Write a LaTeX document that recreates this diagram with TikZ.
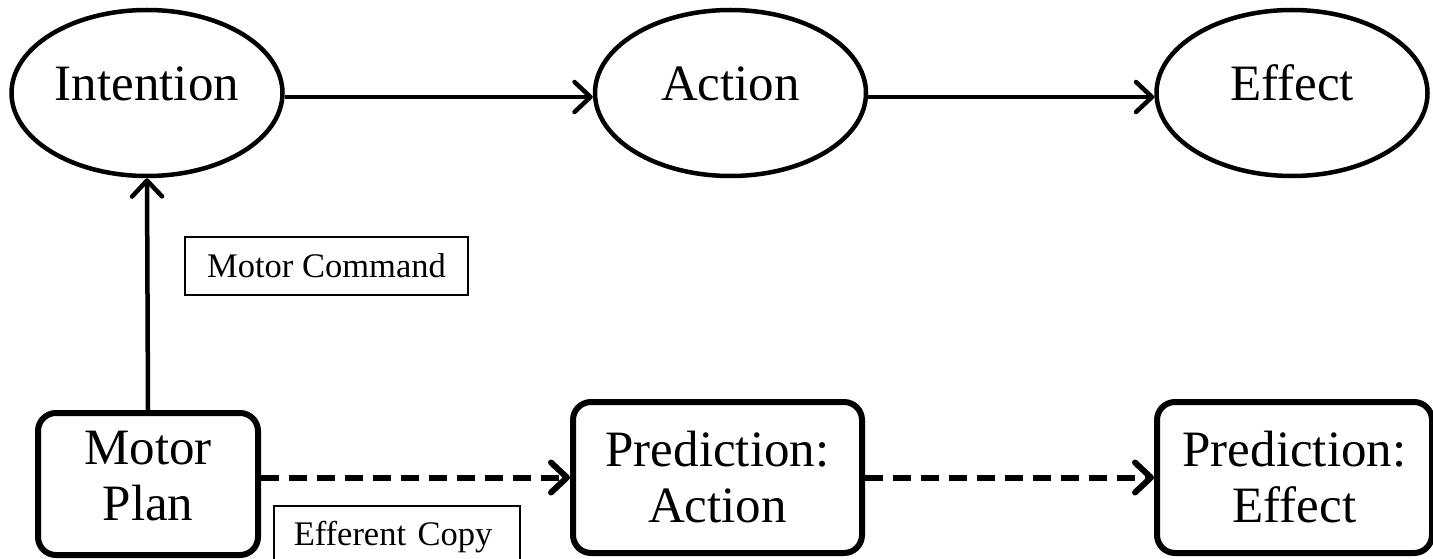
\documentclass[tikz,border=0pt]{standalone}
\usepackage{fontspec}
\setmainfont{Liberation Serif}
\usetikzlibrary{shapes.geometric,arrows.meta}
\begin{document}
\begin{tikzpicture}[x=1pt,y=-1pt,
  bigfont/.style={font=\fontsize{51}{56}\selectfont},
  smallfont/.style={font=\fontsize{34.5}{40}\selectfont},
  state/.style={ellipse, draw, line width=4.5pt, minimum width=271pt,
    minimum height=166pt, inner sep=0pt, bigfont,
    text height=34pt, text depth=19pt},
  stagebox/.style={rectangle, rounded corners=18pt, draw, line width=6pt,
    align=center, inner sep=0pt, bigfont},
  tag/.style={rectangle, draw, line width=1.5pt, inner sep=0pt, smallfont},
  barb/.style={-{Straight Barb[length=16pt,width=30pt,round]}},
  flow/.style={line width=4.5pt, barb},
  copyflow/.style={line width=6pt, dash pattern=on 18pt off 10pt, barb}
]
\useasboundingbox (0,0) rectangle (1433,559);

% upper chain: what is intended, done, and caused
\node[state] (intention) at (147,93)   {Intention};
\node[state] (action)    at (730.5,93) {Action};
\node[state] (effect)    at (1292,93)  {Effect};

% lower chain: plan and its predicted consequences
\node[stagebox, minimum width=220pt, minimum height=142pt, text depth=17pt]
  (plan) at (148,484) {Motor\\Plan};
\node[stagebox, minimum width=289pt, minimum height=151pt]
  (predaction) at (717.5,477.5) {Prediction:\\Action};
\node[stagebox, minimum width=275pt, minimum height=151pt]
  (predeffect) at (1294.5,477.5) {Prediction:\\Effect};

% labels of the two pathways
\node[tag, minimum width=283pt, minimum height=58pt]
  (command) at (326.5,266) {Motor Command};
\node[tag, anchor=north west, text width=206pt, inner xsep=20pt,
  inner ysep=0pt, text height=40pt, text depth=40pt, align=left]
  (copy) at (273,505) {Efferent Copy};

% connectors
\draw[flow] ([yshift=-4pt]intention.east) -- ([yshift=-4pt]action.west);
\draw[flow] ([yshift=-4pt]action.east) -- ([yshift=-4pt]effect.west);
\draw[flow] (plan.north) -- (intention.south);
\draw[copyflow] (plan.east |- predaction.west) -- (predaction.west);
\draw[copyflow] (predaction.east) -- (predeffect.west);
\end{tikzpicture}
\end{document}
